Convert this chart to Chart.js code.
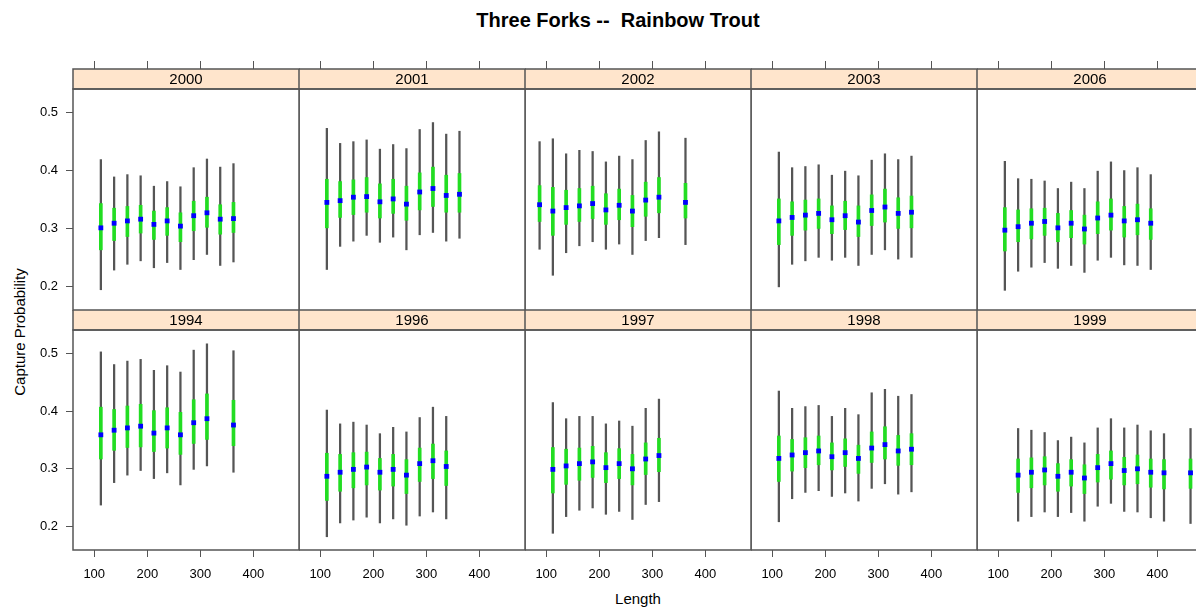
<!DOCTYPE html>
<html>
<head>
<meta charset="utf-8">
<title>Three Forks -- Rainbow Trout</title>
<script src="https://cdn.jsdelivr.net/npm/chart.js@4"></script>
<style>
  html, body { margin: 0; padding: 0; background: #fff; }
  body { position: relative; width: 1196px; height: 608px; overflow: hidden;
         font-family: "Liberation Sans", Arial, sans-serif; color: #000; }
  canvas { position: absolute; }
  #title { position: absolute; left: 318px; width: 600px; top: 8px; text-align: center;
           font-size: 20px; font-weight: bold; white-space: pre; line-height: 24px; }
  #xlab { position: absolute; left: 538px; width: 200px; top: 590px; text-align: center;
          font-size: 15px; line-height: 18px; }
  #ylab { position: absolute; left: 19px; top: 332px; font-size: 15px; white-space: nowrap;
          transform: translate(-50%, -50%) rotate(-90deg); }
</style>
</head>
<body>
<div id="title">Three Forks --  Rainbow Trout</div>
<div id="xlab">Length</div>
<div id="ylab">Capture Probability</div>
<script>
// panel order: top row left to right, then bottom row
const years = ['2000', '2001', '2002', '2003', '2006', '1994', '1996', '1997', '1998', '1999'];
const xTicks = [100, 200, 300, 400];
const yTicks = [0.2, 0.3, 0.4, 0.5];
const xRange = [60, 486];
const yRange = [0.159, 0.541];

// rows: [length, lower outer, lower inner, estimate, upper inner, upper outer]
const yr2000 = [
  [112.5, 0.194, 0.263, 0.301, 0.343, 0.419],
  [137.5, 0.228, 0.279, 0.309, 0.335, 0.389],
  [162.5, 0.238, 0.286, 0.313, 0.338, 0.393],
  [187.5, 0.244, 0.292, 0.316, 0.340, 0.391],
  [212.5, 0.232, 0.281, 0.307, 0.330, 0.373],
  [237.5, 0.241, 0.288, 0.313, 0.336, 0.381],
  [262.5, 0.229, 0.277, 0.304, 0.327, 0.372],
  [287.5, 0.246, 0.296, 0.322, 0.347, 0.405],
  [312.5, 0.255, 0.302, 0.327, 0.354, 0.420],
  [337.5, 0.236, 0.290, 0.316, 0.341, 0.406],
  [362.5, 0.242, 0.293, 0.317, 0.345, 0.412]
];
const yr2001 = [
  [112.5, 0.229, 0.301, 0.345, 0.385, 0.473],
  [137.5, 0.269, 0.319, 0.348, 0.381, 0.447],
  [162.5, 0.278, 0.324, 0.354, 0.384, 0.450],
  [187.5, 0.288, 0.328, 0.355, 0.388, 0.453],
  [212.5, 0.276, 0.318, 0.346, 0.377, 0.437],
  [237.5, 0.285, 0.326, 0.351, 0.385, 0.445],
  [262.5, 0.263, 0.314, 0.342, 0.373, 0.438],
  [287.5, 0.289, 0.332, 0.363, 0.396, 0.471],
  [312.5, 0.293, 0.338, 0.369, 0.406, 0.483],
  [337.5, 0.278, 0.328, 0.357, 0.392, 0.463],
  [362.5, 0.283, 0.328, 0.359, 0.395, 0.468]
];
const yr2002 = [
  [87.5, 0.264, 0.312, 0.341, 0.374, 0.450],
  [112.5, 0.219, 0.288, 0.330, 0.371, 0.455],
  [137.5, 0.258, 0.307, 0.336, 0.366, 0.429],
  [162.5, 0.270, 0.312, 0.339, 0.369, 0.435],
  [187.5, 0.277, 0.317, 0.343, 0.373, 0.433],
  [212.5, 0.264, 0.307, 0.332, 0.360, 0.415],
  [237.5, 0.273, 0.315, 0.340, 0.368, 0.425],
  [262.5, 0.255, 0.303, 0.330, 0.357, 0.419],
  [287.5, 0.279, 0.321, 0.349, 0.380, 0.452],
  [312.5, 0.284, 0.327, 0.354, 0.388, 0.467],
  [362.5, 0.272, 0.318, 0.345, 0.378, 0.456]
];
const yr2003 = [
  [112.5, 0.199, 0.272, 0.313, 0.351, 0.432],
  [137.5, 0.238, 0.288, 0.319, 0.346, 0.405],
  [162.5, 0.244, 0.297, 0.323, 0.349, 0.407],
  [187.5, 0.250, 0.300, 0.326, 0.351, 0.410],
  [212.5, 0.245, 0.291, 0.315, 0.339, 0.392],
  [237.5, 0.250, 0.298, 0.322, 0.347, 0.399],
  [262.5, 0.236, 0.286, 0.311, 0.339, 0.391],
  [287.5, 0.255, 0.305, 0.331, 0.358, 0.418],
  [312.5, 0.263, 0.311, 0.337, 0.368, 0.429],
  [337.5, 0.247, 0.300, 0.326, 0.353, 0.419],
  [362.5, 0.250, 0.301, 0.328, 0.356, 0.425]
];
const yr2006 = [
  [112.5, 0.193, 0.261, 0.297, 0.336, 0.416],
  [137.5, 0.226, 0.277, 0.303, 0.332, 0.386],
  [162.5, 0.233, 0.282, 0.309, 0.334, 0.385],
  [187.5, 0.241, 0.288, 0.312, 0.335, 0.382],
  [212.5, 0.231, 0.277, 0.301, 0.326, 0.369],
  [237.5, 0.236, 0.284, 0.309, 0.331, 0.380],
  [262.5, 0.224, 0.273, 0.299, 0.323, 0.369],
  [287.5, 0.245, 0.291, 0.318, 0.346, 0.399],
  [312.5, 0.250, 0.297, 0.323, 0.351, 0.415],
  [337.5, 0.237, 0.285, 0.313, 0.338, 0.400],
  [362.5, 0.236, 0.289, 0.315, 0.342, 0.405],
  [387.5, 0.229, 0.281, 0.309, 0.334, 0.393]
];
const yr1994 = [
  [112.5, 0.237, 0.317, 0.359, 0.407, 0.503],
  [137.5, 0.276, 0.332, 0.367, 0.403, 0.481],
  [162.5, 0.289, 0.337, 0.371, 0.409, 0.487],
  [187.5, 0.297, 0.338, 0.374, 0.412, 0.490],
  [212.5, 0.283, 0.330, 0.362, 0.401, 0.471],
  [237.5, 0.293, 0.336, 0.371, 0.406, 0.479],
  [262.5, 0.272, 0.325, 0.359, 0.398, 0.468],
  [287.5, 0.299, 0.344, 0.380, 0.420, 0.506],
  [312.5, 0.305, 0.351, 0.387, 0.430, 0.517],
  [362.5, 0.294, 0.340, 0.376, 0.419, 0.505]
];
const yr1996 = [
  [112.5, 0.182, 0.245, 0.287, 0.327, 0.402],
  [137.5, 0.206, 0.261, 0.294, 0.325, 0.378],
  [162.5, 0.211, 0.267, 0.299, 0.328, 0.381],
  [187.5, 0.216, 0.272, 0.303, 0.329, 0.376],
  [212.5, 0.206, 0.263, 0.294, 0.318, 0.361],
  [237.5, 0.213, 0.270, 0.299, 0.325, 0.372],
  [262.5, 0.202, 0.257, 0.289, 0.316, 0.364],
  [287.5, 0.218, 0.278, 0.309, 0.336, 0.389],
  [312.5, 0.225, 0.283, 0.314, 0.343, 0.407],
  [337.5, 0.213, 0.271, 0.304, 0.331, 0.391]
];
const yr1997 = [
  [112.5, 0.188, 0.258, 0.299, 0.337, 0.415],
  [137.5, 0.217, 0.273, 0.305, 0.334, 0.387],
  [162.5, 0.228, 0.280, 0.309, 0.336, 0.391],
  [187.5, 0.232, 0.285, 0.312, 0.339, 0.391],
  [212.5, 0.221, 0.276, 0.302, 0.328, 0.378],
  [237.5, 0.226, 0.283, 0.309, 0.335, 0.383],
  [262.5, 0.212, 0.272, 0.300, 0.325, 0.374],
  [287.5, 0.238, 0.290, 0.317, 0.345, 0.405],
  [312.5, 0.243, 0.295, 0.323, 0.353, 0.421]
];
const yr1998 = [
  [112.5, 0.208, 0.278, 0.318, 0.357, 0.435],
  [137.5, 0.248, 0.296, 0.324, 0.351, 0.405],
  [162.5, 0.259, 0.302, 0.328, 0.354, 0.408],
  [187.5, 0.262, 0.307, 0.331, 0.357, 0.410],
  [212.5, 0.252, 0.298, 0.321, 0.345, 0.391],
  [237.5, 0.258, 0.304, 0.328, 0.352, 0.405],
  [262.5, 0.244, 0.292, 0.318, 0.341, 0.394],
  [287.5, 0.266, 0.311, 0.336, 0.364, 0.432],
  [312.5, 0.274, 0.317, 0.342, 0.373, 0.438],
  [337.5, 0.256, 0.306, 0.331, 0.358, 0.426],
  [362.5, 0.260, 0.307, 0.334, 0.361, 0.429]
];
const yr1999 = [
  [137.5, 0.209, 0.259, 0.289, 0.317, 0.370],
  [162.5, 0.217, 0.267, 0.294, 0.319, 0.367],
  [187.5, 0.225, 0.272, 0.298, 0.321, 0.363],
  [212.5, 0.217, 0.261, 0.287, 0.309, 0.349],
  [237.5, 0.224, 0.270, 0.294, 0.316, 0.355],
  [262.5, 0.209, 0.257, 0.284, 0.307, 0.345],
  [287.5, 0.235, 0.277, 0.302, 0.325, 0.371],
  [312.5, 0.240, 0.282, 0.309, 0.331, 0.387],
  [337.5, 0.226, 0.272, 0.297, 0.320, 0.371],
  [362.5, 0.225, 0.274, 0.300, 0.324, 0.376],
  [387.5, 0.215, 0.268, 0.294, 0.317, 0.366],
  [412.5, 0.209, 0.265, 0.293, 0.316, 0.361],
  [462.5, 0.205, 0.266, 0.293, 0.317, 0.370]
];
const panelRows = [yr2000, yr2001, yr2002, yr2003, yr2006, yr1994, yr1996, yr1997, yr1998, yr1999];

// layout of the lattice grid (pixels)
const COL_LEFT = 73;
const COL_W = 226;
const ROW_TOP = [89, 330];
const ROW_H = [221, 220];
const STRIP_H = 20;
const FRAME = '#555';
const STRIP_BG = '#ffe5cc';

Chart.defaults.font.family = '"Liberation Sans", Arial, sans-serif';
Chart.defaults.color = '#000';

// strip on top of each panel and the panel box
const panelFrame = {
  id: 'panelFrame',
  afterDraw(chart, args, opts) {
    const { ctx, chartArea: a } = chart;
    ctx.save();
    ctx.fillStyle = STRIP_BG;
    ctx.fillRect(a.left, a.top - STRIP_H, a.width, STRIP_H);
    ctx.strokeStyle = FRAME;
    ctx.lineWidth = 1.5;
    ctx.strokeRect(a.left, a.top - STRIP_H, a.width, STRIP_H);
    ctx.strokeRect(a.left, a.top, a.width, a.height);
    ctx.fillStyle = '#000';
    ctx.font = '15px "Liberation Sans", Arial, sans-serif';
    ctx.textAlign = 'center';
    ctx.textBaseline = 'middle';
    ctx.fillText(opts.label, a.left + a.width / 2, a.top - STRIP_H / 2 + 1);
    ctx.restore();
  }
};

function fixedTicks(values) {
  return scale => { scale.ticks = values.map(v => ({ value: v })); };
}

// afterFit runs even for hidden scales, so only size the visible ones;
// also drop the label overhang padding so every panel keeps the same box
function fixSize(prop, px) {
  return scale => {
    scale[prop] = scale.options.display ? px : 0;
    scale.paddingTop = 0;
    scale.paddingBottom = 0;
    scale.paddingLeft = 0;
    scale.paddingRight = 0;
  };
}

function buildPanel(i) {
  const col = i % 5;
  const row = Math.floor(i / 5);
  const rows = panelRows[i];

  const mL = col === 0 ? 73 : 0;
  const mT = row === 0 ? 28 : STRIP_H;
  const mB = row === 1 ? 50 : 2;
  const mR = 2;
  const w = COL_W + mL + mR;
  const h = ROW_H[row] + mT + mB;

  const canvas = document.createElement('canvas');
  canvas.width = w;
  canvas.height = h;
  canvas.style.width = w + 'px';
  canvas.style.height = h + 'px';
  canvas.style.left = (COL_LEFT + col * COL_W - mL) + 'px';
  canvas.style.top = (ROW_TOP[row] - mT) + 'px';
  document.body.appendChild(canvas);

  new Chart(canvas, {
    type: 'bar',
    data: {
      datasets: [
        {
          type: 'line',
          data: rows.map(r => ({ x: r[0], y: r[3] })),
          showLine: false,
          pointStyle: 'rect',
          pointRadius: 3.4,
          pointBackgroundColor: '#0000ff',
          pointBorderWidth: 0,
          order: 1
        },
        {
          data: rows.map(r => ({ x: r[0], y: [r[2], r[4]] })),
          backgroundColor: '#22dd22',
          barThickness: 3,
          grouped: false,
          borderWidth: 0,
          order: 2
        },
        {
          data: rows.map(r => ({ x: r[0], y: [r[1], r[5]] })),
          backgroundColor: '#555555',
          barThickness: 1.6,
          grouped: false,
          borderWidth: 0,
          order: 3
        }
      ]
    },
    options: {
      responsive: false,
      animation: false,
      devicePixelRatio: 1,
      layout: {
        autoPadding: false,
        padding: { top: row === 1 ? STRIP_H : 0, right: mR, bottom: 2, left: 0 }
      },
      plugins: {
        legend: { display: false },
        tooltip: { enabled: false },
        panelFrame: { label: years[i] }
      },
      scales: {
        x: {
          type: 'linear',
          position: 'bottom',
          min: xRange[0],
          max: xRange[1],
          offset: false,
          display: row === 1,
          afterBuildTicks: fixedTicks(xTicks),
          afterFit: fixSize('height', 48),
          ticks: { font: { size: 13 }, padding: 10, maxRotation: 0, autoSkip: false,
                   callback: v => String(v) },
          grid: { drawOnChartArea: false, tickLength: 7, color: FRAME, offset: false },
          border: { display: false }
        },
        xTop: {
          type: 'linear',
          position: 'top',
          min: xRange[0],
          max: xRange[1],
          offset: false,
          display: row === 0,
          afterBuildTicks: fixedTicks(xTicks),
          afterFit: fixSize('height', 28),
          ticks: { display: false },
          grid: { drawOnChartArea: false, tickLength: 28, color: FRAME, offset: false },
          border: { display: false }
        },
        y: {
          type: 'linear',
          min: yRange[0],
          max: yRange[1],
          display: col === 0,
          afterBuildTicks: fixedTicks(yTicks),
          afterFit: fixSize('width', 73),
          ticks: { font: { size: 13 }, padding: 8, callback: v => v.toFixed(1) },
          grid: { drawOnChartArea: false, tickLength: 7, color: FRAME },
          border: { display: false }
        }
      }
    },
    plugins: [panelFrame]
  });
}

years.forEach((y, i) => buildPanel(i));
</script>
</body>
</html>
